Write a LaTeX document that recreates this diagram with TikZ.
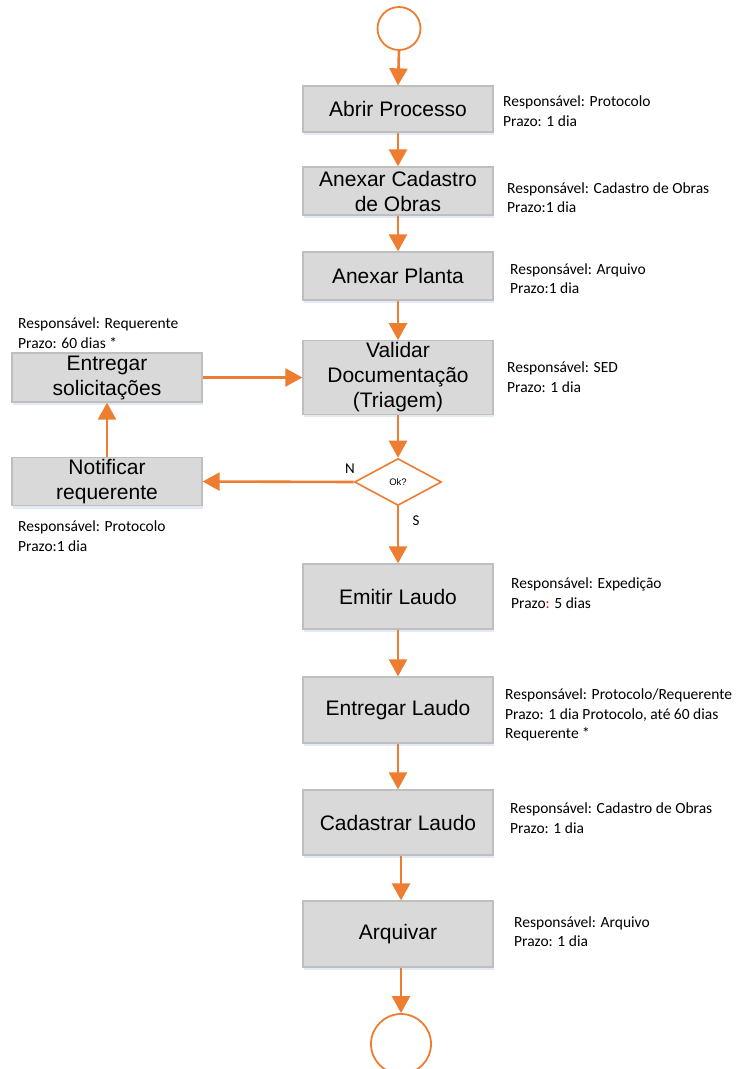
\documentclass[tikz,border=0pt]{standalone}
\usepackage{fontspec}
\setmainfont{Liberation Sans}
\newfontfamily\calib{Carlito}
\usetikzlibrary{shapes.geometric,arrows.meta,shadows}
\definecolor{orng}{HTML}{ED7D31}
\definecolor{boxfill}{HTML}{D9D9D9}
\definecolor{boxline}{HTML}{BFBFBF}
\definecolor{shad}{HTML}{D6E2F1}
\tikzset{
  procbox/.style={rectangle, draw=boxline, fill=boxfill, line width=1.3pt,
    minimum width=190pt, inner sep=2pt, align=center,
    font=\fontsize{21}{25}\selectfont,
    drop shadow={shadow xshift=1pt, shadow yshift=-3pt, fill=shad, opacity=0.7}},
  note/.style={anchor=west, align=left, inner sep=0pt,
    font=\calib\fontsize{15.5}{19.5}\selectfont},
  flow/.style={draw=orng, line width=2.6pt, -{Triangle[width=18pt,length=17pt]}},
  term/.style={circle, draw=orng, line width=1.8pt, fill=white, inner sep=0pt},
  decis/.style={diamond, draw=orng, line width=1.6pt, fill=white, inner sep=0pt,
    minimum width=87pt, minimum height=47pt, font=\fontsize{9.5}{10}\selectfont},
  lbl/.style={inner sep=0pt, font=\calib\fontsize{15}{16}\selectfont}
}
\begin{document}
\begin{tikzpicture}[x=1pt,y=-1pt]
\useasboundingbox (0,0) rectangle (741,1069);
\clip (0,0) rectangle (741,1069);

\node[term, minimum size=43pt] (start) at (399,28.5) {};

\node[procbox, minimum height=46pt] (abrir) at (398,109) {Abrir Processo};
\node[procbox, minimum height=48pt] (cad) at (398,191) {Anexar Cadastro\\de Obras};
\node[procbox, minimum height=48pt] (planta) at (398,276) {Anexar Planta};
\node[procbox, minimum height=71pt] (valid) at (398,377.5) {Validar\\Documentação\\(Triagem)};
\node[decis] (ok) at (398,482) {Ok?};
\node[procbox, minimum height=49pt] (entsol) at (107,377.5) {Entregar\\solicitações};
\node[procbox, minimum height=47pt] (notif) at (107,481.5) {Notificar\\requerente};
\node[procbox, minimum height=65pt] (emitir) at (398,596.5) {Emitir Laudo};
\node[procbox, minimum height=66pt] (entlaudo) at (398,710) {Entregar Laudo};
\node[procbox, minimum height=65pt] (cadlaudo) at (398,822.5) {Cadastrar Laudo};
\node[procbox, minimum height=66pt] (arq) at (398,934) {Arquivar};
\node[term, minimum size=60pt] (fim) at (401,1044) {};

\draw[flow] (start.south) -- (abrir.north);
\draw[flow] (abrir.south) -- (cad.north);
\draw[flow] (cad.south) -- (planta.north);
\draw[flow] (planta.south) -- (valid.north);
\draw[flow] (valid.south) -- (ok.north);
\draw[flow] (ok.south) -- (emitir.north);
\draw[flow] (ok.west) -- (notif.east);
\draw[flow] (notif.north) -- (entsol.south);
\draw[flow] (entsol.east) -- (valid.west);
\draw[flow] (emitir.south) -- (entlaudo.north);
\draw[flow] (entlaudo.south) -- (cadlaudo.north);
\draw[flow] ([xshift=3pt]cadlaudo.south) -- ([xshift=3pt]arq.north);
\draw[flow] ([xshift=3pt]arq.south) -- (fim.north);

\node[lbl] (nlab) at (350,469) {N};
\node[lbl] (slab) at (416,521) {S};

\node[note] (n1) at (503,111) {Responsável: Protocolo\\Prazo: 1 dia};
\node[note] (n2) at (507,197.5) {Responsável: Cadastro de Obras\\Prazo:1 dia};
\node[note] (n3) at (510,278.5) {Responsável: Arquivo\\Prazo:1 dia};
\node[note] (n4) at (507,377) {Responsável: SED\\Prazo: 1 dia};
\node[note] (n5) at (18,333) {Responsável: Requerente\\Prazo: 60 dias *};
\node[note] (n6) at (18,536) {Responsável: Protocolo\\Prazo:1 dia};
\node[note] (n7) at (511,593) {Responsável: Expedição\\Prazo{\color{red}:} 5 dias};
\node[note] (n8) at (505,715) {Responsável: Protocolo/Requerente\\Prazo: 1 dia Protocolo, até 60 dias\\Requerente *};
\node[note] (n9) at (510,818) {Responsável: Cadastro de Obras\\Prazo: 1 dia};
\node[note] (n10) at (514,931.5) {Responsável: Arquivo\\Prazo: 1 dia};
\end{tikzpicture}
\end{document}
